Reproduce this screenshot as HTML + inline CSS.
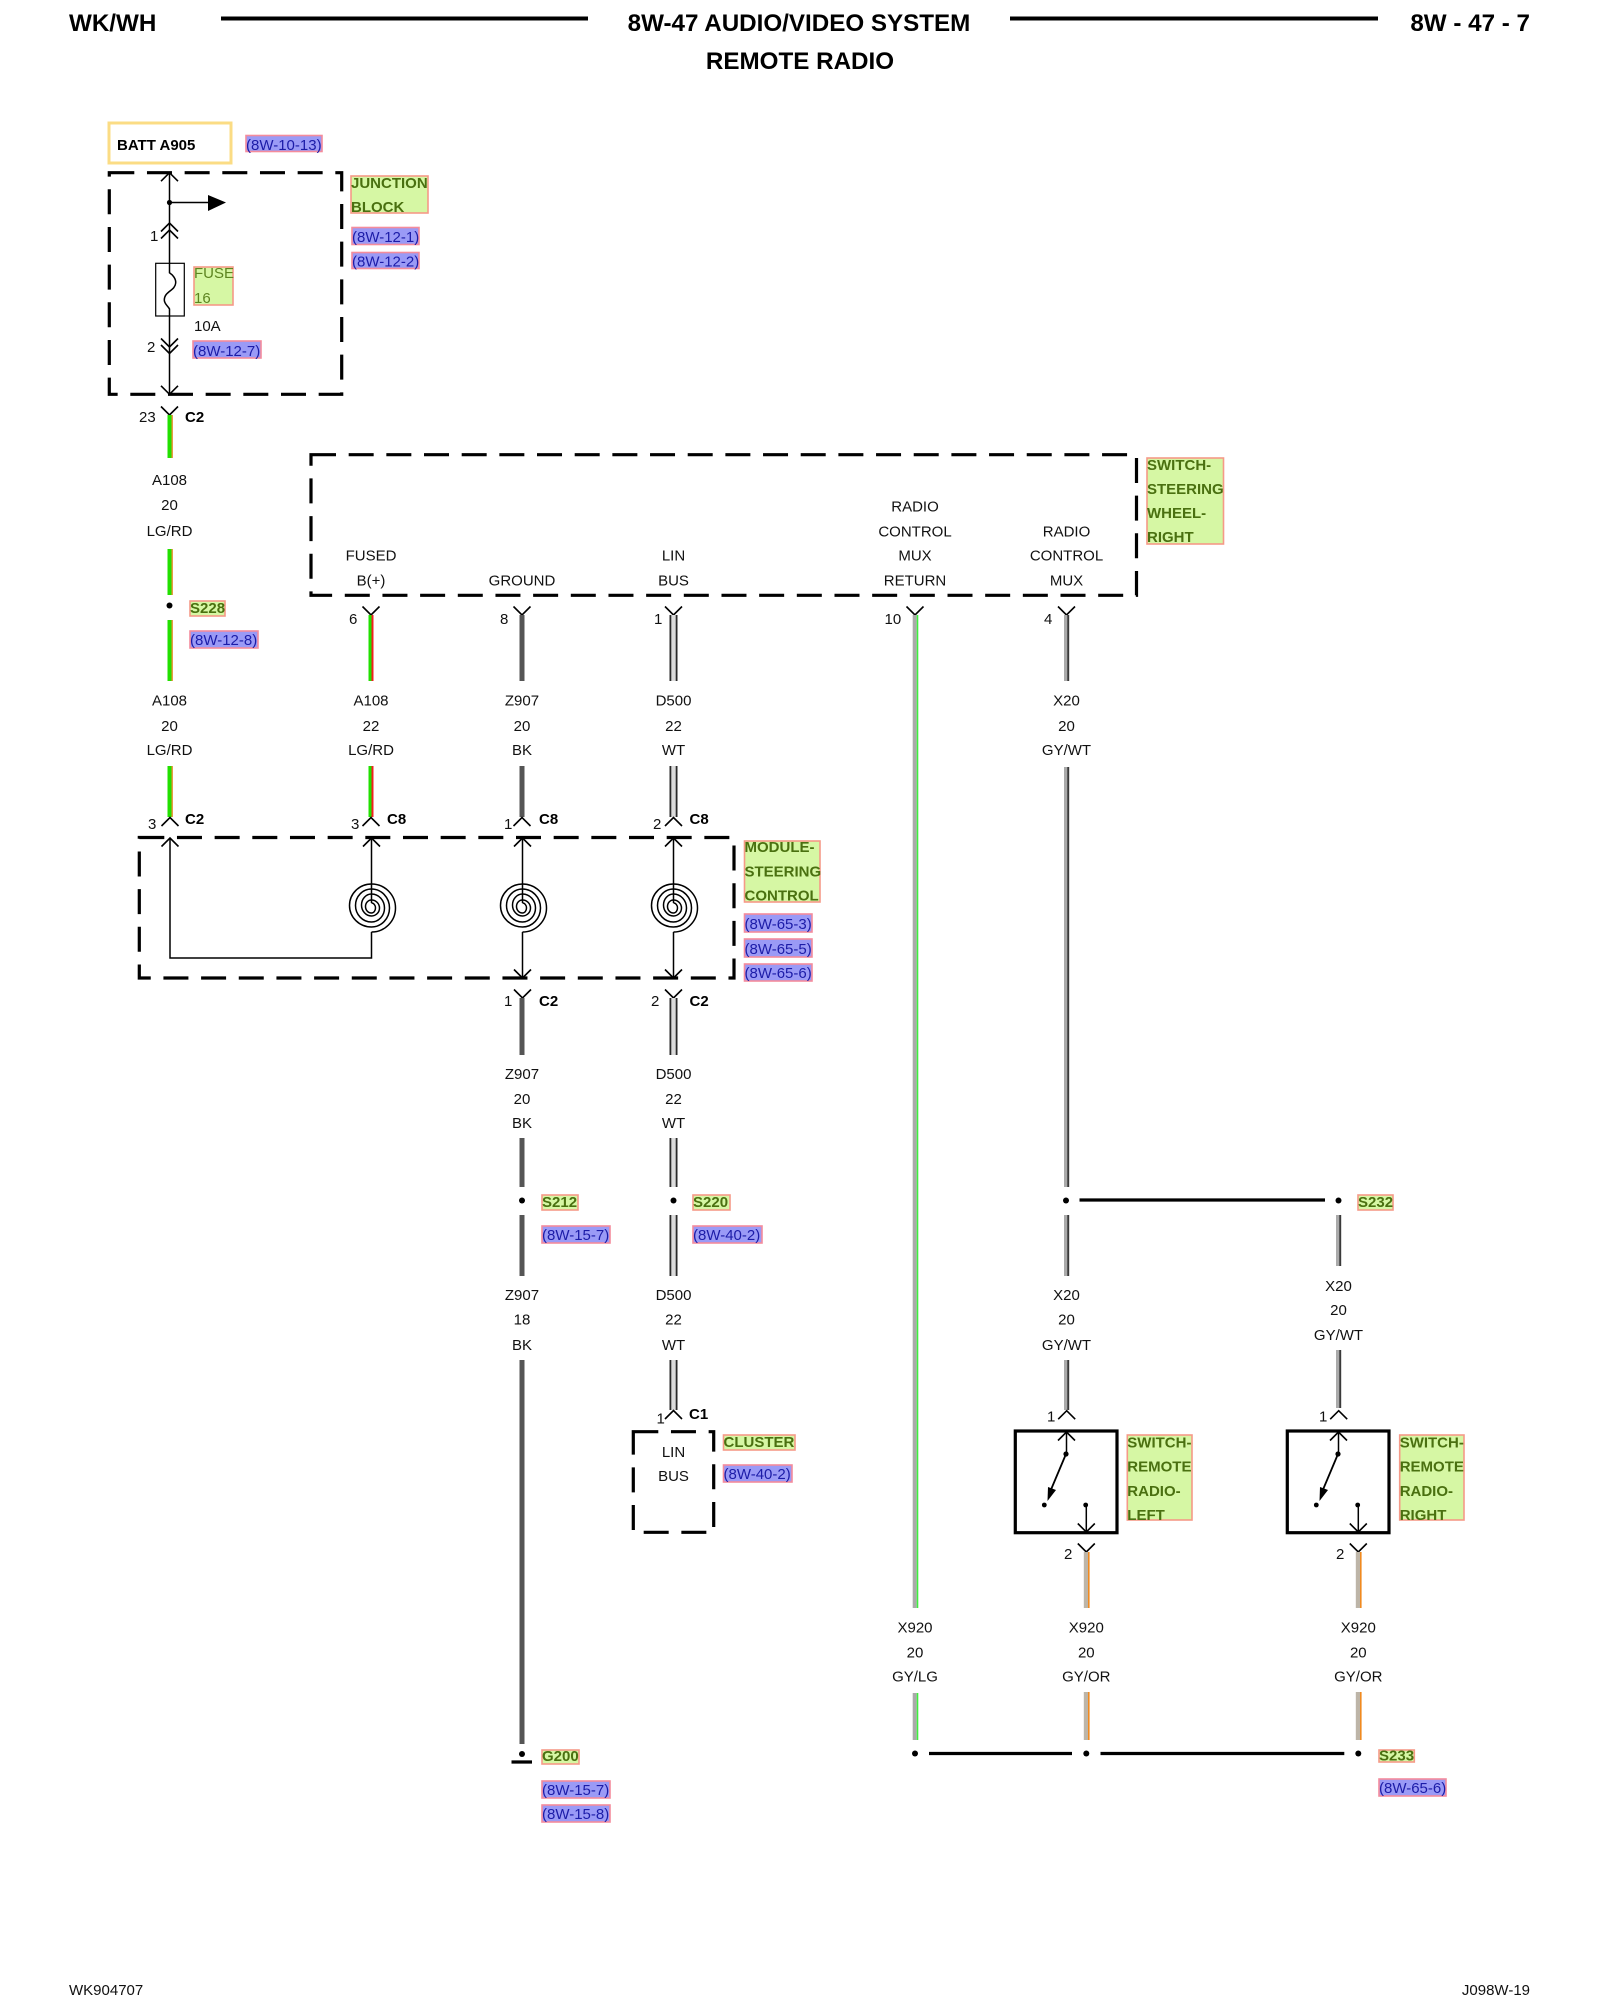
<!DOCTYPE html>
<html><head><meta charset="utf-8"><style>
html,body{margin:0;padding:0;background:#fff}
svg{display:block}
text{font-family:"Liberation Sans",sans-serif;font-size:15px;fill:#111}
.c{text-anchor:middle}
.h{font-size:24.2px;font-weight:bold;fill:#000}
.b{font-weight:bold;fill:#000}
.g{font-weight:bold;fill:#4a7010}
.f{fill:#5d8420}
.r{fill:#1c1ca8}
.lb{fill:#d6f7a4;stroke:#f59a88;stroke-width:1.6}
.rb{fill:#9a9af6;stroke:#f48c9c;stroke-width:1.6}
.w{fill:none;stroke:#000;stroke-width:1.6}
.d{fill:none;stroke:#000;stroke-width:3.2;stroke-dasharray:25 12.67}
.s{fill:none;stroke:#000;stroke-width:1.5}
.k{stroke:#000;stroke-width:3.2}
.bk{stroke:#555;stroke-width:5}
</style></head><body>
<svg width="1600" height="2000" viewBox="0 0 1600 2000" xmlns="http://www.w3.org/2000/svg">
<defs>
<polyline id="u" points="-8.5,8.5 0,0 8.5,8.5" fill="none" stroke="#000" stroke-width="1.6"/>
<polyline id="v" points="-8.5,-8.5 0,0 8.5,-8.5" fill="none" stroke="#000" stroke-width="1.6"/>
<g id="lgrd"><rect x="-2.5" y="0" width="4" height="100" fill="#22e000"/><rect x="1.5" y="0" width="1.4" height="100" fill="#e89030"/></g>
<g id="wt"><rect x="-3.5" y="0" width="7" height="100" fill="#dcdcdc"/><rect x="-4" y="0" width="1.8" height="100" fill="#2a2a2a"/><rect x="2.2" y="0" width="1.8" height="100" fill="#2a2a2a"/></g>
<g id="gywt"><rect x="-2.5" y="0" width="3.2" height="100" fill="#aaa"/><rect x="0.7" y="0" width="2" height="100" fill="#3a3a3a"/></g>
<g id="gyor"><rect x="-2.5" y="0" width="5" height="100" fill="#bdb5a8"/><rect x="1.7" y="0" width="1.6" height="100" fill="#f08a20"/></g>
<path id="sp" d="M0 932A24 24 0 0 0 0 884A22 21.500 0 0 0 0 927A18 19 0 0 0 0 889A16 16.500 0 0 0 0 922A13 14 0 0 0 0 894A10 11 0 0 0 0 916A8 8 0 0 0 0 900A6 6.500 0 0 0 0 913A4 5 0 0 0 0 903" fill="none" stroke="#000" stroke-width="1.5"/>
</defs>

<!-- header -->
<text x="69" y="31" class="h">WK/WH</text>
<line x1="221" y1="18.5" x2="588" y2="18.5" stroke="#000" stroke-width="4"/>
<text x="799" y="31" class="h c">8W-47 AUDIO/VIDEO SYSTEM</text>
<text x="800" y="69" class="h c">REMOTE RADIO</text>
<line x1="1010" y1="18.5" x2="1378" y2="18.5" stroke="#000" stroke-width="4"/>
<text x="1530" y="31" class="h" text-anchor="end">8W - 47 - 7</text>

<!-- top power source -->
<rect x="109" y="123" width="122" height="40" fill="#fff" stroke="#fbdc84" stroke-width="3"/>
<text x="117" y="150" class="b">BATT A905</text>
<rect x="246" y="135.500" width="76" height="16" class="rb"/><text x="246" y="150" class="r">(8W-10-13)</text>

<rect x="109.300" y="172.700" width="232.400" height="221.600" class="d"/>
<line x1="169.500" y1="172.700" x2="169.500" y2="263" class="s"/>
<use href="#u" x="169.500" y="172.700"/>
<circle cx="169.500" cy="202.500" r="2.600"/>
<line x1="169.500" y1="202.500" x2="210" y2="202.500" class="s"/>
<polygon points="208,195 226,202.500 208,211"/>
<use href="#u" x="169.500" y="223"/><use href="#u" x="169.500" y="230"/>
<text x="150" y="241">1</text>
<rect x="155.700" y="263.300" width="28.600" height="52.700" fill="#fff" stroke="#000" stroke-width="1.2"/>
<path d="M169.500 263V272.700C173 275 176 279 175.700 283C175 291 164.500 291 164.300 300C164.300 304 168 306 169.500 309V316" class="s"/>
<rect x="194" y="267" width="39" height="38" class="lb"/>
<text x="194" y="278" class="f">FUSE</text><text x="194" y="303" class="f">16</text>
<text x="194" y="331">10A</text>
<line x1="169.500" y1="316" x2="169.500" y2="394.300" class="s"/>
<use href="#v" x="169.500" y="347"/><use href="#v" x="169.500" y="353.500"/>
<text x="147" y="352">2</text>
<rect x="193" y="341" width="68" height="17" class="rb"/><text x="193" y="356" class="r">(8W-12-7)</text>
<use href="#v" x="169.500" y="394.300"/>

<rect x="351" y="176" width="77" height="37" class="lb"/>
<text x="351" y="188" class="g">JUNCTION</text><text x="351" y="212" class="g">BLOCK</text>
<rect x="352" y="227.500" width="67" height="17" class="rb"/><text x="352" y="242" class="r">(8W-12-1)</text>
<rect x="352" y="252.500" width="67" height="16" class="rb"/><text x="352" y="266.500" class="r">(8W-12-2)</text>

<!-- column 1 -->
<use href="#v" x="169.500" y="415"/>
<text x="139" y="422">23</text><text x="185" y="422" class="b">C2</text>
<use href="#lgrd" transform="translate(170 415) scale(1 .43)"/>
<text x="169.500" y="485" class="c">A108</text><text x="169.500" y="510" class="c">20</text><text x="169.500" y="536" class="c">LG/RD</text>
<use href="#lgrd" transform="translate(170 549) scale(1 .46)"/>
<circle cx="169.500" cy="605.500" r="3"/>
<rect x="190" y="601" width="35" height="15" class="lb"/><text x="190" y="613" class="g">S228</text>
<rect x="190" y="631" width="68" height="17" class="rb"/><text x="190" y="645" class="r">(8W-12-8)</text>
<use href="#lgrd" transform="translate(170 620) scale(1 .61)"/>
<text x="169.500" y="705.500" class="c">A108</text><text x="169.500" y="731" class="c">20</text><text x="169.500" y="755" class="c">LG/RD</text>
<use href="#lgrd" transform="translate(170 766) scale(1 .51)"/>
<use href="#u" x="170" y="817.500"/>
<text x="148" y="829">3</text><text x="185" y="824" class="b">C2</text>

<!-- switch steering wheel right -->
<rect x="311" y="454.700" width="825.500" height="140.600" class="d"/>
<rect x="1147" y="458" width="76.500" height="86" class="lb"/>
<text x="1147" y="470" class="g">SWITCH-</text><text x="1147" y="494" class="g">STEERING</text><text x="1147" y="518" class="g">WHEEL-</text><text x="1147" y="542" class="g">RIGHT</text>
<text x="371" y="560.700" class="c">FUSED</text><text x="371" y="585.700" class="c">B(+)</text>
<text x="522" y="585.700" class="c">GROUND</text>
<text x="673.500" y="560.700" class="c">LIN</text><text x="673.500" y="585.700" class="c">BUS</text>
<text x="915" y="511.700" class="c">RADIO</text><text x="915" y="536.700" class="c">CONTROL</text><text x="915" y="560.700" class="c">MUX</text><text x="915" y="585.700" class="c">RETURN</text>
<text x="1066.500" y="536.700" class="c">RADIO</text><text x="1066.500" y="560.700" class="c">CONTROL</text><text x="1066.500" y="585.700" class="c">MUX</text>

<use href="#v" x="371" y="615"/><text x="349" y="624">6</text>
<use href="#v" x="522" y="615"/><text x="500" y="624">8</text>
<use href="#v" x="673.500" y="615"/><text x="654" y="624">1</text>
<use href="#v" x="915" y="615"/><text x="884.500" y="624">10</text>
<use href="#v" x="1066.500" y="615"/><text x="1044" y="624">4</text>

<!-- column 2 -->
<rect x="368.500" y="615" width="3" height="66" fill="#22e000"/><rect x="371.500" y="615" width="2" height="66" fill="#f02020"/>
<text x="371" y="705.500" class="c">A108</text><text x="371" y="731" class="c">22</text><text x="371" y="755" class="c">LG/RD</text>
<rect x="368.500" y="766" width="3" height="51" fill="#22e000"/><rect x="371.500" y="766" width="2" height="51" fill="#f02020"/>
<use href="#u" x="371" y="817.500"/>
<text x="351" y="829">3</text><text x="387" y="824" class="b">C8</text>

<!-- column 3 -->
<line x1="522" y1="615" x2="522" y2="681" class="bk"/>
<text x="522" y="705.500" class="c">Z907</text><text x="522" y="731" class="c">20</text><text x="522" y="755" class="c">BK</text>
<line x1="522" y1="766" x2="522" y2="817" class="bk"/>
<use href="#u" x="522" y="817.500"/>
<text x="504" y="829">1</text><text x="539" y="824" class="b">C8</text>

<!-- column 4 -->
<use href="#wt" transform="translate(673.500 615) scale(1 .66)"/>
<text x="673.500" y="705.500" class="c">D500</text><text x="673.500" y="731" class="c">22</text><text x="673.500" y="755" class="c">WT</text>
<use href="#wt" transform="translate(673.500 766) scale(1 .51)"/>
<use href="#u" x="673.500" y="817.500"/>
<text x="653" y="829">2</text><text x="689.500" y="824" class="b">C8</text>

<!-- module steering control -->
<rect x="139.300" y="837.500" width="594.700" height="140.500" class="d"/>
<rect x="744.500" y="841" width="75.500" height="61" class="lb"/>
<text x="744.500" y="852" class="g">MODULE-</text><text x="744.500" y="876.700" class="g">STEERING</text><text x="744.500" y="900.700" class="g">CONTROL</text>
<rect x="744.500" y="914" width="67.500" height="18" class="rb"/><text x="744.500" y="929" class="r">(8W-65-3)</text>
<rect x="744.500" y="939" width="67.500" height="18" class="rb"/><text x="744.500" y="954" class="r">(8W-65-5)</text>
<rect x="744.500" y="964" width="67.500" height="17" class="rb"/><text x="744.500" y="978" class="r">(8W-65-6)</text>
<use href="#u" x="170" y="838"/><use href="#u" x="371.500" y="838"/><use href="#u" x="522.500" y="838"/><use href="#u" x="673.500" y="838"/>
<path d="M170 838V958H371.500V932M371.500 838V903" class="s"/>
<use href="#sp" x="371.500"/><use href="#sp" x="522.500"/><use href="#sp" x="673.500"/>
<path d="M522.500 838V903M522.500 932V978M673.500 838V903M673.500 932V978" class="s"/>
<use href="#v" x="522.500" y="978"/><use href="#v" x="673.500" y="978"/>

<use href="#v" x="522.500" y="998"/><use href="#v" x="673.500" y="998"/>
<text x="504" y="1006">1</text><text x="539" y="1006" class="b">C2</text>
<text x="651" y="1006">2</text><text x="689.500" y="1006" class="b">C2</text>

<!-- Z907 down -->
<line x1="522" y1="998" x2="522" y2="1055" class="bk"/>
<text x="522" y="1079" class="c">Z907</text><text x="522" y="1104" class="c">20</text><text x="522" y="1128" class="c">BK</text>
<line x1="522" y1="1138" x2="522" y2="1187" class="bk"/>
<circle cx="522" cy="1200.500" r="3"/>
<rect x="542" y="1195" width="36" height="15" class="lb"/><text x="542" y="1207" class="g">S212</text>
<rect x="542" y="1226" width="68" height="17" class="rb"/><text x="542" y="1240" class="r">(8W-15-7)</text>
<line x1="522" y1="1215" x2="522" y2="1276" class="bk"/>
<text x="522" y="1300" class="c">Z907</text><text x="522" y="1324.500" class="c">18</text><text x="522" y="1350" class="c">BK</text>
<line x1="522" y1="1360" x2="522" y2="1744" class="bk"/>
<circle cx="522" cy="1754" r="3"/>
<line x1="511.500" y1="1762" x2="532" y2="1762" class="k"/>
<rect x="542" y="1750" width="37" height="14" class="lb"/><text x="542" y="1761" class="g">G200</text>
<rect x="542" y="1781" width="68" height="17" class="rb"/><text x="542" y="1795" class="r">(8W-15-7)</text>
<rect x="542" y="1805" width="68" height="17" class="rb"/><text x="542" y="1819" class="r">(8W-15-8)</text>

<!-- D500 down -->
<use href="#wt" transform="translate(673.500 998) scale(1 .57)"/>
<text x="673.500" y="1079" class="c">D500</text><text x="673.500" y="1104" class="c">22</text><text x="673.500" y="1128" class="c">WT</text>
<use href="#wt" transform="translate(673.500 1138) scale(1 .49)"/>
<circle cx="673.500" cy="1200.500" r="3"/>
<rect x="693" y="1195" width="37" height="15" class="lb"/><text x="693" y="1207" class="g">S220</text>
<rect x="693" y="1226" width="69" height="17" class="rb"/><text x="693" y="1240" class="r">(8W-40-2)</text>
<use href="#wt" transform="translate(673.500 1215) scale(1 .61)"/>
<text x="673.500" y="1300" class="c">D500</text><text x="673.500" y="1324.500" class="c">22</text><text x="673.500" y="1350" class="c">WT</text>
<use href="#wt" transform="translate(673.500 1360) scale(1 .5)"/>
<use href="#u" x="673.500" y="1410.500"/>
<text x="656.500" y="1423.500">1</text><text x="689" y="1419" class="b">C1</text>
<rect x="633.300" y="1431.700" width="80.400" height="100.600" class="d"/>
<text x="673.500" y="1457" class="c">LIN</text><text x="673.500" y="1481" class="c">BUS</text>
<rect x="723.500" y="1435" width="71.500" height="15" class="lb"/><text x="723.500" y="1447" class="g">CLUSTER</text>
<rect x="723.500" y="1465" width="68.500" height="17" class="rb"/><text x="723.500" y="1479" class="r">(8W-40-2)</text>

<!-- column 5 -->
<rect x="912.700" y="615" width="4" height="993" fill="#aaa"/><rect x="916.700" y="615" width="1.600" height="993" fill="#3fef3f"/>
<text x="915" y="1632.700" class="c">X920</text><text x="915" y="1657.700" class="c">20</text><text x="915" y="1681.700" class="c">GY/LG</text>
<rect x="912.700" y="1693" width="4" height="47" fill="#aaa"/><rect x="916.700" y="1693" width="1.600" height="47" fill="#3fef3f"/>
<circle cx="915" cy="1753.500" r="3"/>
<line x1="929" y1="1753.500" x2="1072" y2="1753.500" class="k"/>

<!-- column 6 -->
<use href="#gywt" transform="translate(1066.500 615) scale(1 .66)"/>
<text x="1066.500" y="705.500" class="c">X20</text><text x="1066.500" y="731" class="c">20</text><text x="1066.500" y="755" class="c">GY/WT</text>
<use href="#gywt" transform="translate(1066.500 767) scale(1 4.2)"/>
<circle cx="1066" cy="1200.500" r="3"/>
<line x1="1079.500" y1="1200" x2="1325" y2="1200" class="k"/>
<circle cx="1338.500" cy="1200.500" r="3"/>
<rect x="1358" y="1195" width="35" height="15" class="lb"/><text x="1358" y="1207" class="g">S232</text>
<use href="#gywt" transform="translate(1066.500 1215) scale(1 .61)"/>
<text x="1066.500" y="1300" class="c">X20</text><text x="1066.500" y="1324.500" class="c">20</text><text x="1066.500" y="1350" class="c">GY/WT</text>
<use href="#gywt" transform="translate(1066.500 1360) scale(1 .5)"/>

<!-- column 7 -->
<use href="#gywt" transform="translate(1338.500 1215) scale(1 .51)"/>
<text x="1338.500" y="1291" class="c">X20</text><text x="1338.500" y="1315" class="c">20</text><text x="1338.500" y="1340" class="c">GY/WT</text>
<use href="#gywt" transform="translate(1338.500 1350) scale(1 .58)"/>

<!-- left switch -->
<use href="#u" x="1066.700" y="1410.700"/><text x="1047" y="1421.700">1</text>
<rect x="1015.300" y="1431" width="101.700" height="101.700" fill="none" stroke="#000" stroke-width="3.200"/>
<use href="#u" x="1066.500" y="1432"/>
<line x1="1066.500" y1="1432" x2="1066.500" y2="1454" class="s"/>
<circle cx="1066" cy="1454" r="2.600"/>
<line x1="1066" y1="1454" x2="1050" y2="1492" stroke="#000" stroke-width="1.800"/>
<polygon points="1047.500,1501 1048,1487 1056,1490"/>
<circle cx="1044.300" cy="1505" r="2.400"/><circle cx="1085.700" cy="1505" r="2.400"/>
<line x1="1086.300" y1="1505" x2="1086.300" y2="1532" class="s"/>
<use href="#v" x="1086.300" y="1532"/>
<use href="#v" x="1086.300" y="1552"/><text x="1064" y="1559">2</text>
<use href="#gyor" transform="translate(1086.300 1552) scale(1 .56)"/>
<text x="1086.300" y="1632.700" class="c">X920</text><text x="1086.300" y="1657.700" class="c">20</text><text x="1086.300" y="1681.700" class="c">GY/OR</text>
<use href="#gyor" transform="translate(1086.300 1692) scale(1 .48)"/>
<circle cx="1086.300" cy="1753.500" r="3"/>
<line x1="1100.500" y1="1753.500" x2="1344.300" y2="1753.500" class="k"/>
<rect x="1127.300" y="1435" width="64.700" height="85" class="lb"/>
<text x="1127.300" y="1447.300" class="g">SWITCH-</text><text x="1127.300" y="1471.700" class="g">REMOTE</text><text x="1127.300" y="1496" class="g">RADIO-</text><text x="1127.300" y="1520" class="g">LEFT</text>

<!-- right switch -->
<use href="#u" x="1338.700" y="1410.700"/><text x="1319" y="1421.700">1</text>
<rect x="1287.300" y="1431" width="101.700" height="101.700" fill="none" stroke="#000" stroke-width="3.200"/>
<use href="#u" x="1338.500" y="1432"/>
<line x1="1338.500" y1="1432" x2="1338.500" y2="1454" class="s"/>
<circle cx="1338" cy="1454" r="2.600"/>
<line x1="1338" y1="1454" x2="1322" y2="1492" stroke="#000" stroke-width="1.800"/>
<polygon points="1319.500,1501 1320,1487 1328,1490"/>
<circle cx="1316.300" cy="1505" r="2.400"/><circle cx="1357.700" cy="1505" r="2.400"/>
<line x1="1358.300" y1="1505" x2="1358.300" y2="1532" class="s"/>
<use href="#v" x="1358.300" y="1532"/>
<use href="#v" x="1358.300" y="1552"/><text x="1336" y="1559">2</text>
<use href="#gyor" transform="translate(1358.300 1552) scale(1 .56)"/>
<text x="1358.300" y="1632.700" class="c">X920</text><text x="1358.300" y="1657.700" class="c">20</text><text x="1358.300" y="1681.700" class="c">GY/OR</text>
<use href="#gyor" transform="translate(1358.300 1692) scale(1 .48)"/>
<circle cx="1358.300" cy="1753.500" r="3"/>
<rect x="1399.700" y="1435" width="64.300" height="85" class="lb"/>
<text x="1399.700" y="1447.300" class="g">SWITCH-</text><text x="1399.700" y="1471.700" class="g">REMOTE</text><text x="1399.700" y="1496" class="g">RADIO-</text><text x="1399.700" y="1520" class="g">RIGHT</text>

<rect x="1379" y="1750" width="35.300" height="12" class="lb"/><text x="1379" y="1760.700" class="g">S233</text>
<rect x="1379" y="1779" width="67" height="17" class="rb"/><text x="1379" y="1793" class="r">(8W-65-6)</text>

<!-- footer -->
<text x="69" y="1995">WK904707</text>
<text x="1530" y="1995" text-anchor="end">J098W-19</text>
</svg>
</body></html>
